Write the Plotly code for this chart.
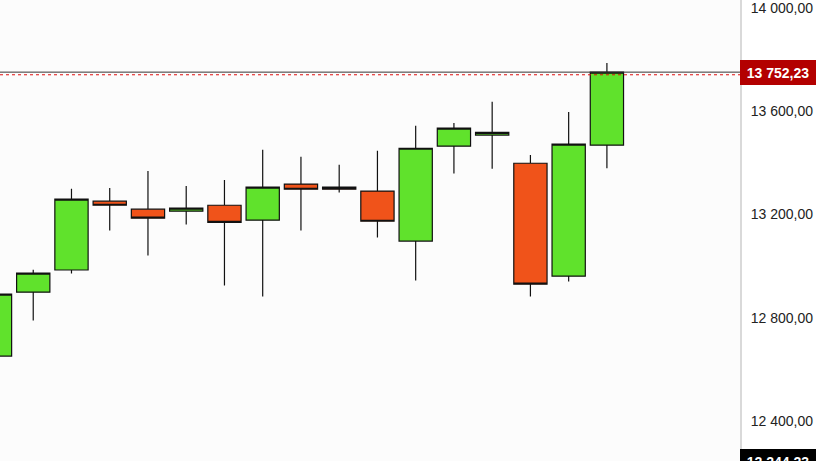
import plotly.graph_objects as go

# ---- data ----
idx = list(range(17))
opens  = [12651, 12899, 12985, 13252, 13221, 13213, 13236, 13178, 13318, 13306, 13291, 13097, 13465, 13508, 13399, 12961, 13469]
highs  = [12900, 12986, 13300, 13303, 13369, 13311, 13334, 13451, 13424, 13393, 13447, 13544, 13555, 13637, 13431, 13598, 13788]
lows   = [12640, 12789, 12971, 13138, 13041, 13161, 12925, 12882, 13138, 13285, 13111, 12944, 13359, 13378, 12882, 12940, 13380]
closes = [12891, 12973, 13260, 13236, 13186, 13225, 13170, 13306, 13298, 13298, 13174, 13457, 13535, 13519, 12930, 13473, 13752.23]

tick_vals = [12400, 12800, 13200, 13600, 14000]
tick_text = ["12 400,00", "12 800,00", "13 200,00", "13 600,00", "14 000,00"]

last_price = 13752.23
last_label = "13 752,23"
ref_price = 13742.0
min_price = 12244.23
min_label = "12 244,23"

y_range = [12244.23, 14032]
x_range = [0.131, 19.48]

fig = go.Figure()
fig.add_trace(go.Candlestick(
    x=idx, open=opens, high=highs, low=lows, close=closes,
    increasing=dict(fillcolor="#60e22c", line=dict(color="#111111", width=1.2)),
    decreasing=dict(fillcolor="#f0531a", line=dict(color="#111111", width=1.2)),
    whiskerwidth=0,
    hoverinfo="skip",
    showlegend=False,
))

fig.add_shape(type="line", xref="paper", x0=0, x1=1, yref="y", y0=last_price, y1=last_price,
              line=dict(color="#333333", width=1))
fig.add_shape(type="line", xref="paper", x0=0, x1=1, yref="y", y0=ref_price, y1=ref_price,
              line=dict(color="#e01010", width=1, dash="dot"))

fig.add_annotation(xref="paper", x=1, xanchor="left", yref="y", y=last_price, yanchor="middle",
                   text=last_label, showarrow=False, bgcolor="#b30000", bordercolor="#b30000",
                   borderwidth=1, borderpad=0, width=74, height=23, align="center",
                   font=dict(family="Liberation Sans, Arial", size=14, color="white", weight="bold"))
fig.add_annotation(xref="paper", x=1, xanchor="left", yref="y", y=min_price, yanchor="middle",
                   text=min_label, showarrow=False, bgcolor="#000000", bordercolor="#000000",
                   borderwidth=1, borderpad=0, width=74, height=23, align="center",
                   font=dict(family="Liberation Sans, Arial", size=14, color="white", weight="bold"))

fig.update_layout(
    width=816, height=461,
    margin=dict(l=0, r=76, t=0, b=0),
    paper_bgcolor="#ffffff",
    plot_bgcolor="#fcfcfc",
    boxgap=0.13,
    boxgroupgap=0,
    showlegend=False,
    font=dict(family="Liberation Sans, Arial", size=14, color="#222222"),
    xaxis=dict(range=x_range, showgrid=False, zeroline=False, showticklabels=False,
               showline=False, rangeslider=dict(visible=False), fixedrange=True),
    yaxis=dict(side="right", range=y_range, tickvals=tick_vals, ticktext=tick_text,
               showgrid=False, zeroline=False, showline=True, linecolor="#d9d9d9", linewidth=2,
               ticks="", ticklabelstandoff=6, tickfont=dict(size=14, color="#222222"),
               fixedrange=True),
)

fig.write_html("out.html", config={"displayModeBar": False},
               post_script="document.body.style.margin='0';document.body.style.overflow='hidden';")
